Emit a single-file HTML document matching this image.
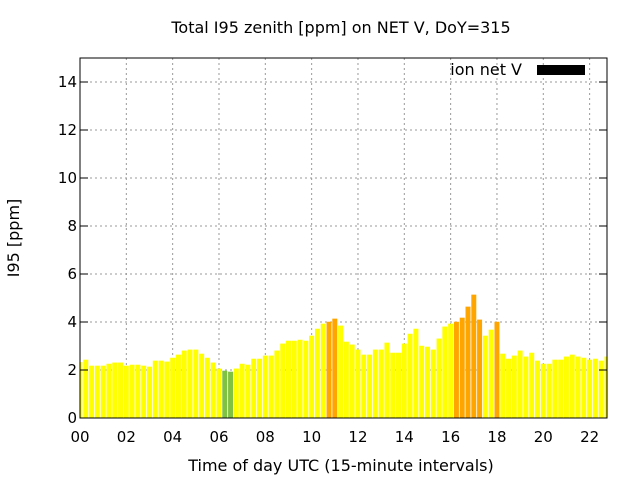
<!DOCTYPE html>
<html><head><meta charset="utf-8"><style>
body{margin:0;background:#fff;}
svg{display:block;font-family:"DejaVu Sans","Liberation Sans",sans-serif;}
</style></head><body>
<svg id="chart" width="640" height="480">
<rect x="0" y="0" width="640" height="480" fill="#fff"/>
<text x="341" y="33" text-anchor="middle" font-size="16">Total I95 zenith [ppm] on NET V, DoY=315</text>
<text x="19" y="238" text-anchor="middle" font-size="16" transform="rotate(-90 19 238)">I95 [ppm]</text>
<text x="341" y="471" text-anchor="middle" font-size="16">Time of day UTC (15-minute intervals)</text>
<g id="grid"></g><g id="bars"></g><g id="axes"></g>
<g>
<text x="522" y="75" text-anchor="end" font-size="16">ion net V</text>
<rect x="537" y="65" width="48" height="10" fill="#000"/>
</g>
</svg>
<script>
const values=[2.33,2.43,2.18,2.18,2.18,2.26,2.31,2.31,2.18,2.22,2.22,2.18,2.14,2.39,2.39,2.35,2.51,2.64,2.81,2.85,2.85,2.68,2.51,2.31,2.06,1.97,1.93,2.06,2.26,2.22,2.47,2.47,2.60,2.60,2.81,3.10,3.22,3.22,3.26,3.22,3.43,3.72,3.93,4.01,4.14,3.85,3.18,3.06,2.85,2.64,2.64,2.85,2.85,3.14,2.72,2.72,3.10,3.51,3.72,3.01,2.97,2.85,3.31,3.81,3.93,4.01,4.18,4.64,5.14,4.10,3.43,3.68,4.01,2.68,2.47,2.60,2.81,2.56,2.72,2.39,2.26,2.26,2.43,2.43,2.56,2.64,2.56,2.51,2.43,2.47,2.39,2.56];
const yTicks=[0,2,4,6,8,10,12,14];
const xTicks=[0,2,4,6,8,10,12,14,16,18,20,22];
const xLabels=["00","02","04","06","08","10","12","14","16","18","20","22"];
const L=80,R=607,T=58,B=418,XMAX=22.75,YMAX=15;
const NS="http://www.w3.org/2000/svg";
const xs=h=>L+h/XMAX*(R-L), ys=v=>B-v/YMAX*(B-T);
function mk(tag,at,parent){const e=document.createElementNS(NS,tag);for(const k in at)e.setAttribute(k,at[k]);parent.appendChild(e);return e;}
const grid=document.getElementById('grid'),bars=document.getElementById('bars'),axes=document.getElementById('axes');
yTicks.forEach(v=>{
 if(v>0){const g=mk('line',{x1:L,x2:R,y1:ys(v),y2:ys(v),stroke:'#999','stroke-dasharray':'2,3'},grid);
 
 }
 const t=mk('text',{x:L-3,y:ys(v)+5,'text-anchor':'end','font-size':15},axes);t.textContent=v;
 
 
 mk('line',{x1:L,x2:L+8,y1:ys(v),y2:ys(v),stroke:'#000'},axes);
 mk('line',{x1:R,x2:R-8,y1:ys(v),y2:ys(v),stroke:'#000'},axes);
});
xTicks.forEach((h,i)=>{
 if(h>0){const g=mk('line',{x1:xs(h),x2:xs(h),y1:T,y2:B,stroke:'#999','stroke-dasharray':'2,3'},grid);
 
 }
 const t=mk('text',{x:xs(h),y:B+24,'text-anchor':'middle','font-size':15},axes);t.textContent=xLabels[i];
 
 
});
const bw=(R-L)/XMAX/4;
values.forEach((v,i)=>{
 const c=i*0.25;let x0=xs(c)-bw*0.43,x1=xs(c)+bw*0.43;
 x0=Math.max(x0,L);x1=Math.min(x1,R);
 if(x1<=x0)return;
 const col=v<2?'#7fc241':(v>=4?'#ffa500':'#ffff00');
 const r=mk('rect',{x:x0,y:ys(v),width:x1-x0,height:B-ys(v),fill:col},bars);
 
 
});
const fr=mk('rect',{x:L,y:T,width:R-L,height:B-T,fill:'none',stroke:'#000','stroke-width':1},axes);


</script>
</body></html>
